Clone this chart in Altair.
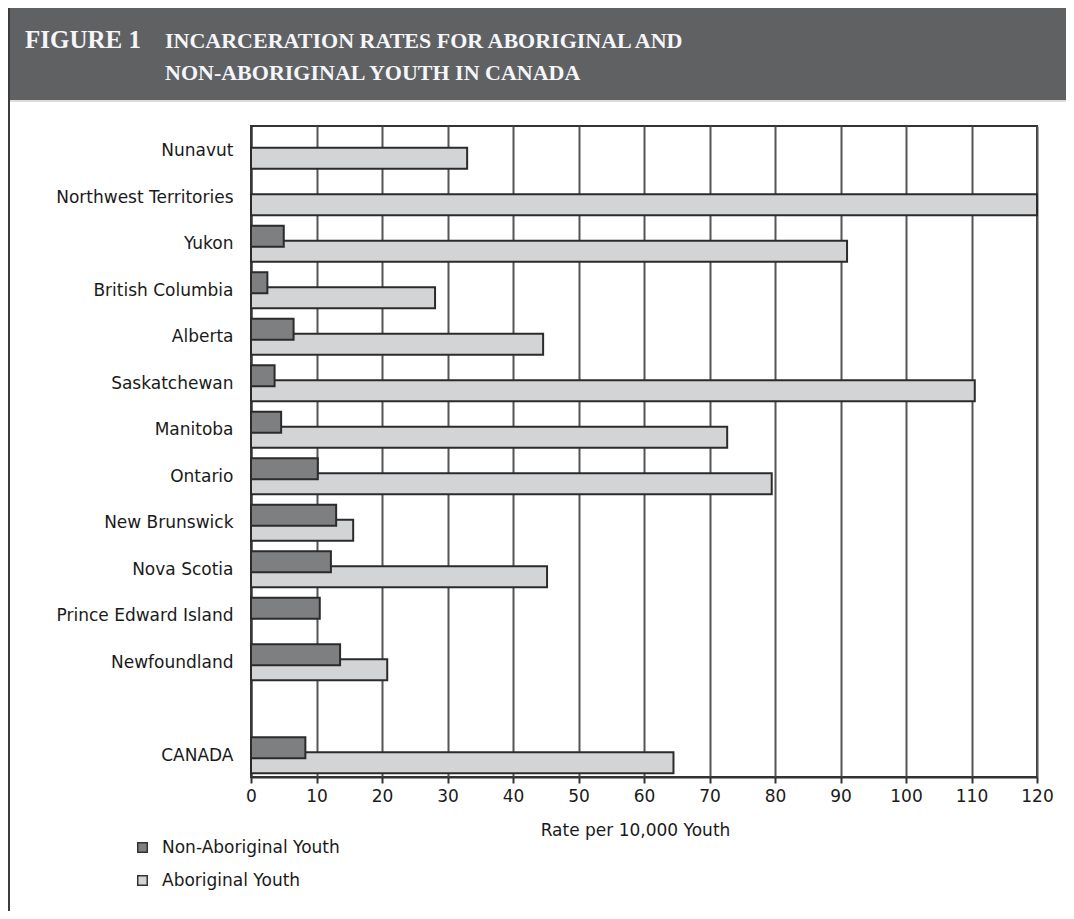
import altair as alt
import pandas as pd

# ---- data ----
provinces = ["Nunavut", "Northwest Territories", "Yukon", "British Columbia", "Alberta",
             "Saskatchewan", "Manitoba", "Ontario", "New Brunswick", "Nova Scotia",
             "Prince Edward Island", "Newfoundland", " ", "CANADA"]
non_aboriginal = [None, None, 5.0, 2.5, 6.5, 3.6, 4.6, 10.2, 13.0, 12.2, 10.5, 13.6, None, 8.3]
aboriginal = [33.0, 120.0, 91.0, 28.1, 44.6, 110.5, 72.7, 79.5, 15.6, 45.2, None, 20.8, None, 64.5]
series = ["Non-Aboriginal Youth", "Aboriginal Youth"]
x_ticks = list(range(0, 121, 10))
title_lines = ["FIGURE 1", "INCARCERATION RATES  FOR ABORIGINAL AND", "NON-ABORIGINAL YOUTH IN CANADA"]
x_title = "Rate per 10,000 Youth"

rows = []
for p, a, b in zip(provinces, non_aboriginal, aboriginal):
    rows.append({"province": p, "series": series[0], "rate": a})
    rows.append({"province": p, "series": series[1], "rate": b})
df = pd.DataFrame(rows)

W, H = 786, 651
FONT = "DejaVu Sans"

y_enc = alt.Y("province:N",
              scale=alt.Scale(domain=provinces, paddingInner=0, paddingOuter=0),
              axis=alt.Axis(title=None, ticks=False, labelPadding=18, labelFontSize=17,
                            labelFont=FONT, labelColor="#1a1a1a", domainColor="#333333",
                            domainWidth=2, labelLimit=400, grid=False, labelOffset=2))
x_enc = alt.X("rate:Q",
              scale=alt.Scale(domain=[0, 120], nice=False, zero=True),
              axis=alt.Axis(values=x_ticks, title=x_title, grid=True, gridColor="#555555",
                            gridWidth=2, tickColor="#333333", tickWidth=2, tickSize=6,
                            labelFontSize=17, labelFont=FONT, labelColor="#1a1a1a",
                            labelPadding=5, labelFlush=False, labelOverlap=False,
                            titleFontSize=17, titleFont=FONT,
                            titleFontWeight="normal", titleColor="#1a1a1a",
                            titlePadding=18, titleX=384, domainColor="#333333",
                            domainWidth=2))
color_enc = alt.Color("series:N",
                      scale=alt.Scale(domain=series, range=["#7e7f81", "#d3d4d6"]),
                      legend=alt.Legend(title=None, orient="none", legendX=-117, legendY=713,
                                        symbolType="square", symbolSize=90,
                                        symbolStrokeColor="#333333", symbolStrokeWidth=1.5,
                                        labelFont=FONT, labelFontSize=17, labelColor="#1a1a1a",
                                        labelLimit=400,
                                        rowPadding=15, labelOffset=11, direction="vertical"))

base = alt.Chart(df).transform_filter("isValid(datum.rate)").encode(
    x=x_enc, y=y_enc, color=color_enc)

light = base.transform_filter(alt.datum.series == series[1]).mark_bar(
    height=21, yOffset=9, stroke="#2b2b2b", strokeWidth=2)
dark = base.transform_filter(alt.datum.series == series[0]).mark_bar(
    height=21, yOffset=-6, stroke="#2b2b2b", strokeWidth=2)

one = pd.DataFrame({"k": [0]})
banner = alt.Chart(one).mark_rect(color="#606163").encode(
    x=alt.value(-241), x2=alt.value(815), y=alt.value(-118), y2=alt.value(-26))
banner_edge = alt.Chart(one).mark_rect(color="#dcdcdc").encode(
    x=alt.value(-241), x2=alt.value(815), y=alt.value(-26), y2=alt.value(-24))
left_line = alt.Chart(one).mark_rect(color="#3c3c3c").encode(
    x=alt.value(-243), x2=alt.value(-241), y=alt.value(-118), y2=alt.value(785))

t1 = alt.Chart(one).mark_text(align="left", baseline="alphabetic", font="Liberation Serif",
                              fontWeight="bold", fontSize=25, color="#f5f6fa").encode(
    x=alt.value(-226), y=alt.value(-78), text=alt.value(title_lines[0]))
t2 = alt.Chart(one).mark_text(align="left", baseline="alphabetic", font="Liberation Serif",
                              fontWeight="bold", fontSize=22, color="#f5f6fa").encode(
    x=alt.value(-86), y=alt.value(-78), text=alt.value(title_lines[1]))
t3 = alt.Chart(one).mark_text(align="left", baseline="alphabetic", font="Liberation Serif",
                              fontWeight="bold", fontSize=22, color="#f5f6fa").encode(
    x=alt.value(-86), y=alt.value(-46), text=alt.value(title_lines[2]))

chart = alt.layer(banner, banner_edge, left_line, t1, t2, t3, light, dark).properties(
    width=W, height=H,
    autosize=alt.AutoSizeParams(type="none"),
    padding={"left": 243, "top": 118, "right": 29, "bottom": 134},
    background="white",
).configure_view(stroke="#333333", strokeWidth=2)

chart.save("out.html", embed_options={"renderer": "svg", "actions": False})
